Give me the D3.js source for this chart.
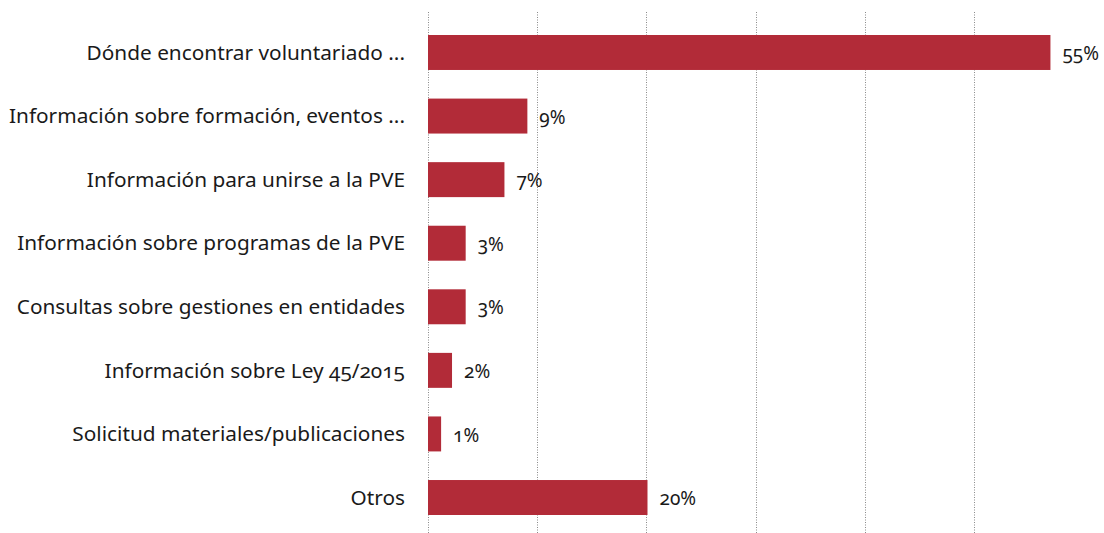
<!DOCTYPE html>
<html><head><meta charset="utf-8">
<script src="https://cdn.jsdelivr.net/npm/d3@7"></script>
<style>
html,body{margin:0;padding:0;background:#fff;}
svg text{font-family:"Noto Sans",sans-serif;font-variant-numeric:oldstyle-nums;font-feature-settings:"onum" 1;fill:#1a1a1a;}
</style></head>
<body><svg id="chart" width="1104" height="533"></svg>
<script>
const categories = ["Dónde encontrar voluntariado ...","Información sobre formación, eventos ...","Información para unirse a la PVE","Información sobre programas de la PVE","Consultas sobre gestiones en entidades","Información sobre Ley 45/2015","Solicitud materiales/publicaciones","Otros"];
const values = [57, 9.1, 7, 3.45, 3.45, 2.2, 1.2, 20.1];
const valueLabels = ["55%","9%","7%","3%","3%","2%","1%","20%"];
const gridTicks = [0,10,20,30,40,50];

const svg = d3.select("#chart");
const x = d3.scaleLinear().domain([0,10]).range([428,537.2]);
const y = d3.scaleBand().domain(categories).range([20.7,529.3]).paddingInner(0.45).paddingOuter(0.225);

svg.append("g").selectAll("line").data(gridTicks).join("line")
  .attr("x1",d=>Math.round(x(d))+0.5).attr("x2",d=>Math.round(x(d))+0.5)
  .attr("y1",12).attr("y2",533)
  .attr("stroke","#8a8a8a").attr("stroke-width",1).attr("stroke-dasharray","1,1.5");

svg.append("g").selectAll("rect").data(values).join("rect")
  .attr("x",x(0)).attr("y",(d,i)=>y(categories[i]))
  .attr("width",d=>x(d)-x(0)).attr("height",y.bandwidth())
  .attr("fill","#b22b38");

svg.append("g").selectAll("text").data(categories).join("text")
  .attr("x",405).attr("y",d=>y(d)+y.bandwidth()/2).attr("dy","0.35em")
  .attr("text-anchor","end").attr("font-size",20.8).text(d=>d);

svg.append("g").selectAll("text").data(values).join("text")
  .attr("x",d=>x(d)+12).attr("y",(d,i)=>y(categories[i])+y.bandwidth()/2).attr("dy","0.4em")
  .attr("font-size",19).text((d,i)=>valueLabels[i]);
</script></body></html>
